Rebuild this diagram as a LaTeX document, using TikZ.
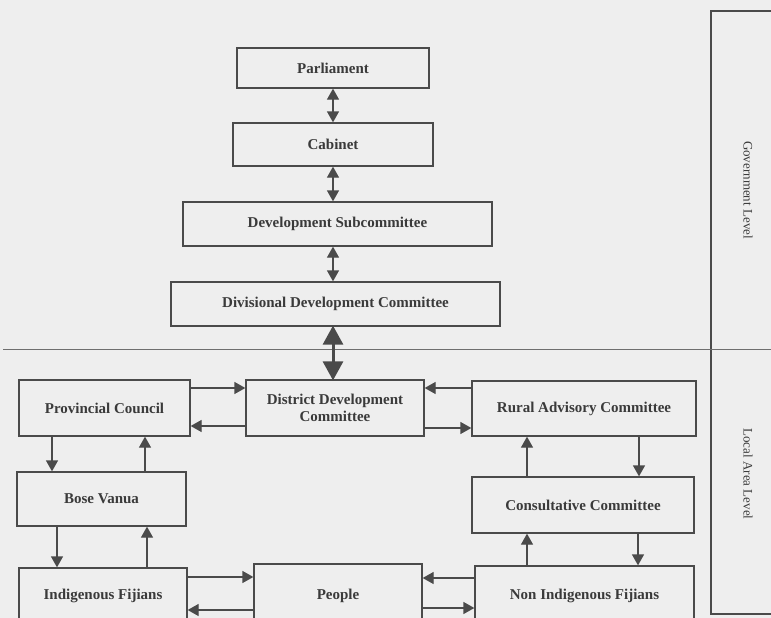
\documentclass[tikz,border=0pt]{standalone}
\usepackage{fontspec}
\setmainfont{Liberation Serif}
\usetikzlibrary{arrows.meta}
\definecolor{bgc}{HTML}{EEEEEE}
\definecolor{lnc}{HTML}{4A4A4A}
\definecolor{txc}{HTML}{3A3A3A}
\tikzset{
  box/.style={draw=lnc, line width=1.3pt, rectangle, inner sep=0pt, text=txc,
    font=\fontsize{15}{17}\selectfont\bfseries, align=center},
  arr/.style={draw=lnc, line width=1.3pt, -{Triangle[width=12pt,length=11pt]}},
  darr/.style={draw=lnc, line width=1.3pt, {Triangle[width=12pt,length=11pt]}-{Triangle[width=12pt,length=11pt]}},
  bigarr/.style={draw=lnc, line width=3pt, {Triangle[width=20pt,length=19pt]}-{Triangle[width=20pt,length=19pt]}, shorten <=-1pt, shorten >=-1pt},
  sidelabel/.style={text=txc, font=\fontsize{13}{15}\selectfont, rotate=-90},
}
\begin{document}
\begin{tikzpicture}[x=1pt,y=-1pt]
\useasboundingbox (0,0) rectangle (771,618);
\clip (0,0) rectangle (771,618);
\fill[bgc] (0,0) rectangle (771,618);

% level band
\draw[lnc, line width=1.2pt] (790,11) -- (711,11) -- (711,614) -- (790,614);
\draw[lnc!80, line width=1pt] (3,349) -- (790,349);
\node[sidelabel] (gov) at (748,190) {Government Level};
\node[sidelabel] (loc) at (748,474) {Local Area Level};

% government level
\node[box, minimum width=192pt, minimum height=40pt] (parl) at (333,68) {Parliament};
\node[box, minimum width=200pt, minimum height=43pt] (cab) at (333,144.5) {Cabinet};
\node[box, minimum width=309pt, minimum height=44pt] (dev) at (337.5,224) {Development Subcommittee};
\node[box, minimum width=329pt, minimum height=44pt] (div) at (335.5,304) {Divisional Development Committee};

% local area level
\node[box, minimum width=178pt, minimum height=56pt] (dist) at (335,408) {District Development\\Committee};
\node[box, minimum width=171pt, minimum height=56pt] (prov) at (104.5,408) {Provincial Council};
\node[box, minimum width=169pt, minimum height=54pt] (bose) at (101.5,499) {Bose Vanua};
\node[box, minimum width=168pt, minimum height=55pt] (indig) at (103,595.5) {Indigenous Fijians};
\node[box, minimum width=168pt, minimum height=64pt] (people) at (338,596) {People};
\node[box, minimum width=224pt, minimum height=55pt] (rural) at (584,408.5) {Rural Advisory Committee};
\node[box, minimum width=222pt, minimum height=56pt] (cons) at (583,505) {Consultative Committee};
\node[box, minimum width=219pt, minimum height=60pt] (nonind) at (584.5,596) {Non Indigenous Fijians};

% vertical government arrows
\draw[darr] (parl.south -| 333,0) -- (cab.north -| 333,0);
\draw[darr] (cab.south -| 333,0) -- (dev.north -| 333,0);
\draw[darr] (dev.south -| 333,0) -- (div.north -| 333,0);
\draw[bigarr] (div.south -| 333,0) -- (dist.north -| 333,0);

% district links
\draw[arr] (prov.east |- 0,388) -- (dist.west |- 0,388);
\draw[arr] (dist.west |- 0,426) -- (prov.east |- 0,426);
\draw[arr] (rural.west |- 0,388) -- (dist.east |- 0,388);
\draw[arr] (dist.east |- 0,428) -- (rural.west |- 0,428);

% left column
\draw[arr] (prov.south -| 52,0) -- (bose.north -| 52,0);
\draw[arr] (bose.north -| 145,0) -- (prov.south -| 145,0);
\draw[arr] (bose.south -| 57,0) -- (indig.north -| 57,0);
\draw[arr] (indig.north -| 147,0) -- (bose.south -| 147,0);

% right column
\draw[arr] (rural.south -| 639,0) -- (cons.north -| 639,0);
\draw[arr] (cons.north -| 527,0) -- (rural.south -| 527,0);
\draw[arr] (cons.south -| 638,0) -- (nonind.north -| 638,0);
\draw[arr] (nonind.north -| 527,0) -- (cons.south -| 527,0);

% people links
\draw[arr] (indig.east |- 0,577) -- (people.west |- 0,577);
\draw[arr] (people.west |- 0,610) -- (indig.east |- 0,610);
\draw[arr] (nonind.west |- 0,578) -- (people.east |- 0,578);
\draw[arr] (people.east |- 0,608) -- (nonind.west |- 0,608);
\end{tikzpicture}
\end{document}
